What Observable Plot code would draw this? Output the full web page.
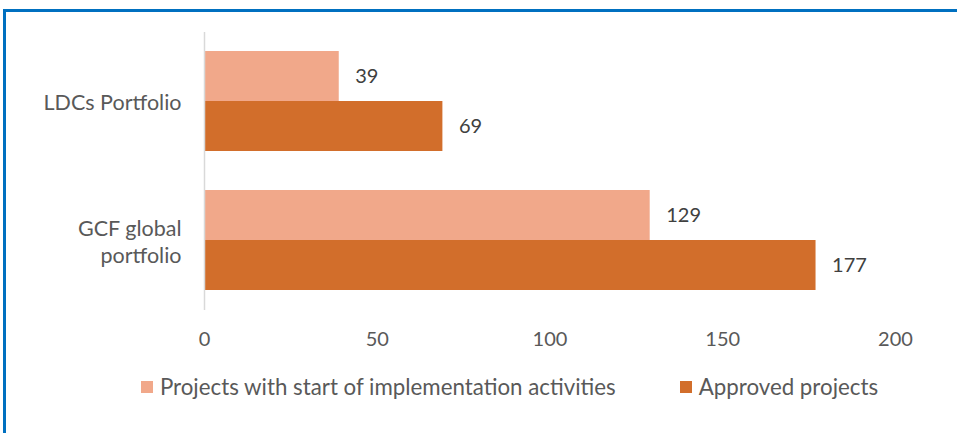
<!DOCTYPE html>
<html>
<head>
<meta charset="utf-8">
<script src="https://cdn.jsdelivr.net/npm/d3@7"></script>
<script src="https://cdn.jsdelivr.net/npm/@observablehq/plot@0.6"></script>
<style>
  html, body { margin: 0; padding: 0; background: #fff; }
  body { width: 957px; height: 433px; position: relative; overflow: hidden; font-family: Lato, "Open Sans", sans-serif; }
  #frame { position: absolute; left: 3px; top: 9px; width: 980px; height: 460px; border: 3px solid #0070C0; box-sizing: border-box; }
  #chart { position: absolute; left: 0; top: 0; }
  #legend { position: absolute; left: 0; top: 373px; width: 957px; padding-left: 62px; box-sizing: border-box; display: flex; justify-content: center; gap: 64px; font-size: 22.3px; color: #595959; }
  #legend .item { display: flex; align-items: center; }
  #legend .sw { width: 12px; height: 12px; margin-right: 7px; }
</style>
</head>
<body>
<div id="frame"></div>
<div id="chart"></div>
<div id="legend"></div>
<script>
const categories = ["LDCs Portfolio", "GCF global portfolio"];
const seriesNames = ["Projects with start of implementation activities", "Approved projects"];
const startedValues = [39, 129];
const approvedValues = [69, 177];
const xTicks = [0, 50, 100, 150, 200];
const colors = ["#F1A88A", "#D26E2B"];

const started = categories.map((c, i) => ({category: c, value: startedValues[i]}));
const approved = categories.map((c, i) => ({category: c, value: approvedValues[i]}));

const font = "Lato, 'Open Sans', sans-serif";
const plot = Plot.plot({
  width: 957,
  height: 360,
  marginLeft: 204,
  marginRight: 62,
  marginTop: 32,
  marginBottom: 50,
  style: {fontFamily: font, fontSize: "20px", color: "#595959", background: "transparent"},
  x: {domain: [0, 200], ticks: xTicks, label: null},
  y: {domain: categories, paddingInner: 0.28, paddingOuter: 0.14, label: null},
  marks: [
    Plot.barX(started, {x: "value", y: "category", fill: colors[0], insetBottom: 50}),
    Plot.barX(approved, {x: "value", y: "category", fill: colors[1], insetTop: 50}),
    Plot.ruleX([0], {stroke: "#D9D9D9", strokeWidth: 1.5}),
    Plot.text(started, {x: "value", y: "category", text: d => String(d.value), dx: 16, dy: -25, textAnchor: "start", fill: "#404040", fontSize: 20}),
    Plot.text(approved, {x: "value", y: "category", text: d => String(d.value), dx: 16, dy: 25, textAnchor: "start", fill: "#404040", fontSize: 20}),
    Plot.axisX(xTicks, {tickSize: 0, tickPadding: 21, fill: "#595959", fontSize: 20}),
    Plot.axisY({tickSize: 0, tickPadding: 23, fill: "#595959", fontSize: 21.5,
      tickFormat: d => d === "GCF global portfolio" ? "GCF global\nportfolio" : d, lineHeight: 1.27})
  ]
});
document.getElementById("chart").appendChild(plot);

const legend = document.getElementById("legend");
seriesNames.forEach((name, i) => {
  const item = document.createElement("div");
  item.className = "item";
  const sw = document.createElement("div");
  sw.className = "sw";
  sw.style.background = colors[i];
  const label = document.createElement("span");
  label.textContent = name;
  item.appendChild(sw);
  item.appendChild(label);
  legend.appendChild(item);
});
</script>
</body>
</html>
